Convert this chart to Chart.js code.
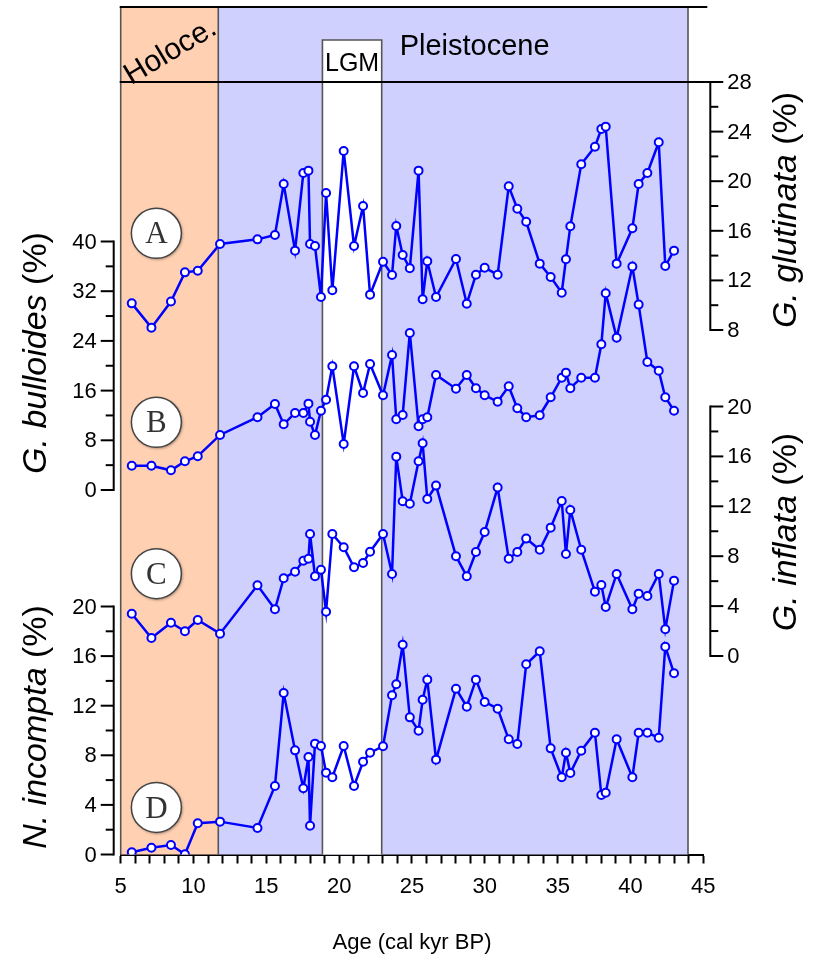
<!DOCTYPE html>
<html>
<head>
<meta charset="utf-8">
<script src="https://cdn.jsdelivr.net/npm/chart.js@4.4.1/dist/chart.umd.min.js"></script>
<style>
  html, body { margin: 0; padding: 0; background: #ffffff; }
  canvas { display: block; }
</style>
</head>
<body>
<canvas id="chart" width="816" height="966"></canvas>
<script>
// Sample ages (cal kyr BP), shared by all four records
const ages = [5.76, 7.11, 8.45, 9.41, 10.29, 11.82, 14.39, 15.59, 16.19, 16.97,
  17.54, 17.89, 18.00, 18.34, 18.75, 19.10, 19.53, 20.31, 21.02, 21.64,
  22.12, 23.01, 23.63, 23.92, 24.36, 24.85, 25.45, 25.73, 26.05, 26.65,
  28.02, 28.76, 29.39, 29.99, 30.88, 31.64, 32.23, 32.84, 33.77, 34.52,
  35.28, 35.57, 35.87, 36.62, 37.56, 38.00, 38.30, 39.05, 40.13, 40.56,
  41.16, 41.94, 42.39, 42.99];

// (A) G. glutinata (%)
const glutinata = [10.15, 8.19, 10.30, 12.65, 12.78, 14.94, 15.31, 15.66, 19.77, 14.40,
  20.66, 20.85, 14.94, 14.77, 10.66, 19.05, 11.20, 22.44, 14.77, 18.00,
  10.85, 13.51, 12.44, 16.39, 14.05, 12.98, 20.85, 10.48, 13.54, 10.66,
  13.73, 10.12, 12.46, 13.02, 12.46, 19.59, 17.78, 16.73, 13.35, 12.27,
  11.01, 13.70, 16.36, 21.36, 22.78, 24.21, 24.40, 13.35, 16.20, 19.77,
  20.66, 23.14, 13.16, 14.40];

// (B) G. bulloides (%)
const bulloides = [3.91, 3.91, 3.17, 4.62, 5.43, 8.86, 11.71, 13.85, 10.58, 12.40,
  12.40, 13.90, 11.00, 8.86, 12.77, 14.54, 19.92, 7.41, 19.92, 15.62,
  20.29, 15.25, 21.74, 11.38, 12.08, 25.28, 10.26, 11.38, 11.71, 18.52,
  16.31, 18.52, 16.38, 15.25, 14.22, 16.70, 13.16, 11.71, 12.03, 14.93,
  18.08, 18.89, 16.38, 18.08, 18.08, 23.46, 31.67, 24.52, 35.96, 29.84,
  20.61, 19.21, 14.93, 12.77];

// (C) G. inflata (%)
const inflata = [3.39, 1.44, 2.67, 1.98, 2.89, 1.79, 5.67, 3.75, 6.23, 6.76,
  7.64, 7.80, 9.78, 6.39, 6.92, 3.55, 9.78, 8.72, 7.11, 7.46,
  8.36, 9.78, 6.58, 15.98, 12.41, 12.21, 15.61, 17.06, 12.59, 13.66,
  8.00, 6.39, 8.34, 9.94, 13.50, 7.80, 8.34, 9.41, 8.52, 10.29,
  12.43, 8.18, 11.71, 8.52, 5.16, 5.69, 3.93, 6.58, 3.75, 5.00,
  4.81, 6.58, 2.14, 6.04];

// (D) N. incompta (%)
const incompta = [0.18, 0.55, 0.77, 0.02, 2.52, 2.65, 2.14, 5.52, 13.02, 8.40,
  5.34, 7.86, 2.32, 8.94, 8.75, 6.60, 6.23, 8.75, 5.52, 7.48,
  8.21, 8.73, 12.84, 13.73, 16.92, 11.06, 9.98, 12.48, 14.10, 7.65,
  13.37, 11.92, 14.10, 12.30, 11.76, 9.29, 8.91, 15.34, 16.39, 8.56,
  6.23, 8.21, 6.57, 8.37, 9.82, 4.80, 4.98, 9.29, 6.23, 9.82,
  9.82, 9.42, 16.76, 14.61];

// Tick layouts: range, minor step, labelled step
const ageTicks       = { min: 5, max: 45, minor: 1, major: 5 };
const glutinataTicks = { min: 8, max: 28, minor: 2, major: 4 };
const bulloidesTicks = { min: 0, max: 40, minor: 4, major: 8 };
const inflataTicks   = { min: 0, max: 20, minor: 2, major: 4 };
const incomptaTicks  = { min: 0, max: 20, minor: 2, major: 4 };

// Climate intervals (cal kyr BP)
const holoceneSpan    = [5, 11.7];
const pleistoceneSpan = [11.7, 43.95];
const lgmSpan         = [18.85, 22.92];

// ---- page layout (pixels) ----
const PLOT_TOP = 7, PLOT_BOTTOM = 854.5, PLOT_LEFT = 120.7, PLOT_RIGHT = 703.3;
const LGM_TOP = 40;
// vertical band occupied by each record's axis: [pixel of min, pixel of max]
const bands = {
  yA: [330, 82],
  yB: [490, 241.5],
  yC: [656, 406.5],
  yD: [854.5, 606.5]
};
const FONT = '"Liberation Sans", Arial, Helvetica, sans-serif';
const BLUE = '#0000ff';

// Stretch each record's scale over the full plot height so that its
// labelled range lands inside its own band.
function scaleRange(band, t) {
  const k = (band[0] - band[1]) / (t.max - t.min);
  return { min: t.min - (PLOT_BOTTOM - band[0]) / k, max: t.min + (band[0] - PLOT_TOP) / k };
}
const rA = scaleRange(bands.yA, glutinataTicks);
const rB = scaleRange(bands.yB, bulloidesTicks);
const rC = scaleRange(bands.yC, inflataTicks);
const rD = scaleRange(bands.yD, incomptaTicks);

function series(values, axis) {
  return {
    data: ages.map((a, i) => ({ x: a, y: values[i] })),
    yAxisID: axis,
    borderColor: BLUE,
    borderWidth: 2.5,
    pointRadius: 4,
    pointHoverRadius: 4,
    pointBackgroundColor: '#ffffff',
    pointBorderColor: BLUE,
    pointBorderWidth: 2,
    tension: 0,
    fill: false
  };
}

function hiddenY(r) {
  return { type: 'linear', display: false, min: r.min, max: r.max };
}

function line(ctx, x1, y1, x2, y2) {
  ctx.beginPath(); ctx.moveTo(x1, y1); ctx.lineTo(x2, y2); ctx.stroke();
}

function drawAxis(ctx, scale, xPix, side, t) {
  const dir = side === 'left' ? -1 : 1;
  const yTop = scale.getPixelForValue(t.max);
  const yBot = scale.getPixelForValue(t.min);
  ctx.save();
  ctx.strokeStyle = '#000';
  ctx.lineWidth = 2;
  ctx.lineCap = 'butt';
  line(ctx, xPix, yTop - 1, xPix, yBot + 1);
  ctx.fillStyle = '#000';
  ctx.font = '22px ' + FONT;
  ctx.textBaseline = 'middle';
  ctx.textAlign = side === 'left' ? 'right' : 'left';
  for (let v = t.min; v <= t.max + 1e-9; v += t.minor) {
    const y = scale.getPixelForValue(v);
    const major = Math.abs(v / t.major - Math.round(v / t.major)) < 1e-6;
    const len = major ? 13 : 8;
    line(ctx, xPix, y, xPix + dir * len, y);
    if (major) ctx.fillText(String(v), xPix + dir * (len + 4), y + 1);
  }
  ctx.restore();
}

function verticalTitle(ctx, cx, cy, parts, size) {
  ctx.save();
  ctx.translate(cx, cy);
  ctx.rotate(-Math.PI / 2);
  ctx.fillStyle = '#000';
  ctx.textBaseline = 'middle';
  ctx.textAlign = 'left';
  const widths = parts.map(p => {
    ctx.font = (p.italic ? 'italic ' : '') + size + 'px ' + FONT;
    return ctx.measureText(p.text).width;
  });
  let x = -widths.reduce((s, w) => s + w, 0) / 2;
  parts.forEach((p, i) => {
    ctx.font = (p.italic ? 'italic ' : '') + size + 'px ' + FONT;
    ctx.fillText(p.text, x, 0);
    x += widths[i];
  });
  ctx.restore();
}

function badge(ctx, x, y, letter) {
  ctx.save();
  ctx.beginPath();
  ctx.arc(x, y, 25, 0, Math.PI * 2);
  ctx.shadowColor = 'rgba(0,0,0,0.45)';
  ctx.shadowBlur = 3;
  ctx.shadowOffsetX = 1;
  ctx.shadowOffsetY = 1;
  ctx.fillStyle = '#ffffff';
  ctx.fill();
  ctx.shadowColor = 'transparent';
  ctx.lineWidth = 1.5;
  ctx.strokeStyle = '#444';
  ctx.stroke();
  ctx.fillStyle = '#333';
  ctx.font = '31px "Liberation Serif", "DejaVu Serif", serif';
  ctx.textAlign = 'center';
  ctx.textBaseline = 'middle';
  ctx.fillText(letter, x, y + 2);
  ctx.restore();
}

const decorations = {
  id: 'decorations',
  beforeDatasetsDraw(chart) {
    const { ctx, chartArea: ca, scales: { x } } = chart;
    const xh0 = x.getPixelForValue(holoceneSpan[0]), xh1 = x.getPixelForValue(holoceneSpan[1]);
    const xp1 = x.getPixelForValue(pleistoceneSpan[1]);
    const xl0 = x.getPixelForValue(lgmSpan[0]), xl1 = x.getPixelForValue(lgmSpan[1]);
    ctx.save();
    // interval shading
    ctx.fillStyle = '#ffd0b2';
    ctx.fillRect(xh0, ca.top, xh1 - xh0, ca.bottom - ca.top);
    ctx.fillStyle = '#d0d0ff';
    ctx.fillRect(xh1, ca.top, xp1 - xh1, ca.bottom - ca.top);
    ctx.fillStyle = '#ffffff';
    ctx.fillRect(xl0, LGM_TOP, xl1 - xl0, ca.bottom - LGM_TOP);
    // interval borders
    ctx.strokeStyle = '#555';
    ctx.lineWidth = 1.6;
    line(ctx, xh0, ca.top, xh0, ca.bottom);
    line(ctx, xh1, ca.top, xh1, ca.bottom);
    line(ctx, xp1, ca.top, xp1, ca.bottom);
    ctx.beginPath();
    ctx.moveTo(xl0, ca.bottom); ctx.lineTo(xl0, LGM_TOP); ctx.lineTo(xl1, LGM_TOP); ctx.lineTo(xl1, ca.bottom);
    ctx.stroke();
    // header rules
    const yHeader = chart.scales.yA.getPixelForValue(glutinataTicks.max);
    ctx.strokeStyle = '#000';
    ctx.lineWidth = 2;
    line(ctx, xh0 - 1, ca.top, ca.right + 4, ca.top);
    line(ctx, xh0 - 1, yHeader, ca.right + 7, yHeader);
    // header texts
    ctx.fillStyle = '#000';
    ctx.textAlign = 'center';
    ctx.textBaseline = 'middle';
    ctx.font = '29px ' + FONT;
    ctx.fillText('Pleistocene', x.getPixelForValue(29.3), 47);
    ctx.font = '25px ' + FONT;
    ctx.fillText('LGM', (xl0 + xl1) / 2, 64);
    ctx.save();
    ctx.translate((xh0 + xh1) / 2 + 1, 52);
    ctx.rotate(-31 * Math.PI / 180);
    ctx.font = '30px ' + FONT;
    ctx.fillText('Holoce.', 0, 0);
    ctx.restore();
    ctx.restore();
  },
  afterDatasetsDraw(chart) {
    const { ctx, chartArea: ca, scales } = chart;
    const leftX = ca.left - 7, rightX = ca.right + 7;
    drawAxis(ctx, scales.yA, rightX, 'right', glutinataTicks);
    drawAxis(ctx, scales.yC, rightX, 'right', inflataTicks);
    drawAxis(ctx, scales.yB, leftX, 'left', bulloidesTicks);
    drawAxis(ctx, scales.yD, leftX, 'left', incomptaTicks);

    verticalTitle(ctx, 37, 353, [{ text: 'G. bulloides', italic: true }, { text: ' (%)' }], 34);
    verticalTitle(ctx, 37, 727, [{ text: 'N. incompta', italic: true }, { text: ' (%)' }], 34);
    verticalTitle(ctx, 787, 210, [{ text: 'G. glutinata', italic: true }, { text: ' (%)' }], 34);
    verticalTitle(ctx, 787, 532, [{ text: 'G. inflata', italic: true }, { text: ' (%)' }], 34);

    const bx = scales.x.getPixelForValue(7.45);
    badge(ctx, bx, scales.yA.getPixelForValue(15.8), 'A');
    badge(ctx, bx, scales.yB.getPixelForValue(10.9), 'B');
    badge(ctx, bx, scales.yC.getPixelForValue(6.6), 'C');
    badge(ctx, bx, scales.yD.getPixelForValue(3.8), 'D');
  }
};

Chart.defaults.font.family = FONT;
Chart.defaults.color = '#000';

new Chart(document.getElementById('chart'), {
  type: 'line',
  data: {
    datasets: [
      series(glutinata, 'yA'),
      series(bulloides, 'yB'),
      series(inflata, 'yC'),
      series(incompta, 'yD')
    ]
  },
  options: {
    responsive: false,
    animation: false,
    devicePixelRatio: 1,
    layout: { padding: { top: PLOT_TOP, left: PLOT_LEFT, right: 816 - PLOT_RIGHT, bottom: 0 } },
    plugins: { legend: { display: false }, tooltip: { enabled: false } },
    events: [],
    scales: {
      x: {
        type: 'linear',
        position: 'bottom',
        min: ageTicks.min,
        max: ageTicks.max,
        afterFit(scale) { scale.height = 966 - PLOT_BOTTOM; },
        afterBuildTicks(scale) {
          const ticks = [];
          for (let v = ageTicks.min; v <= ageTicks.max; v += ageTicks.minor) ticks.push({ value: v });
          scale.ticks = ticks;
        },
        ticks: {
          autoSkip: false,
          maxRotation: 0,
          padding: 10,
          color: '#000',
          font: { size: 22 },
          callback: v => (v % ageTicks.major === 0 ? String(v) : '')
        },
        grid: { drawOnChartArea: false, drawTicks: true, tickLength: 9, tickWidth: 2, tickColor: '#000' },
        border: { display: true, color: '#000', width: 2 },
        title: { display: true, text: 'Age (cal kyr BP)', color: '#000', font: { size: 22 }, padding: { top: 0, bottom: 10 } }
      },
      yA: hiddenY(rA),
      yB: hiddenY(rB),
      yC: hiddenY(rC),
      yD: hiddenY(rD)
    }
  },
  plugins: [decorations]
});
</script>
</body>
</html>
